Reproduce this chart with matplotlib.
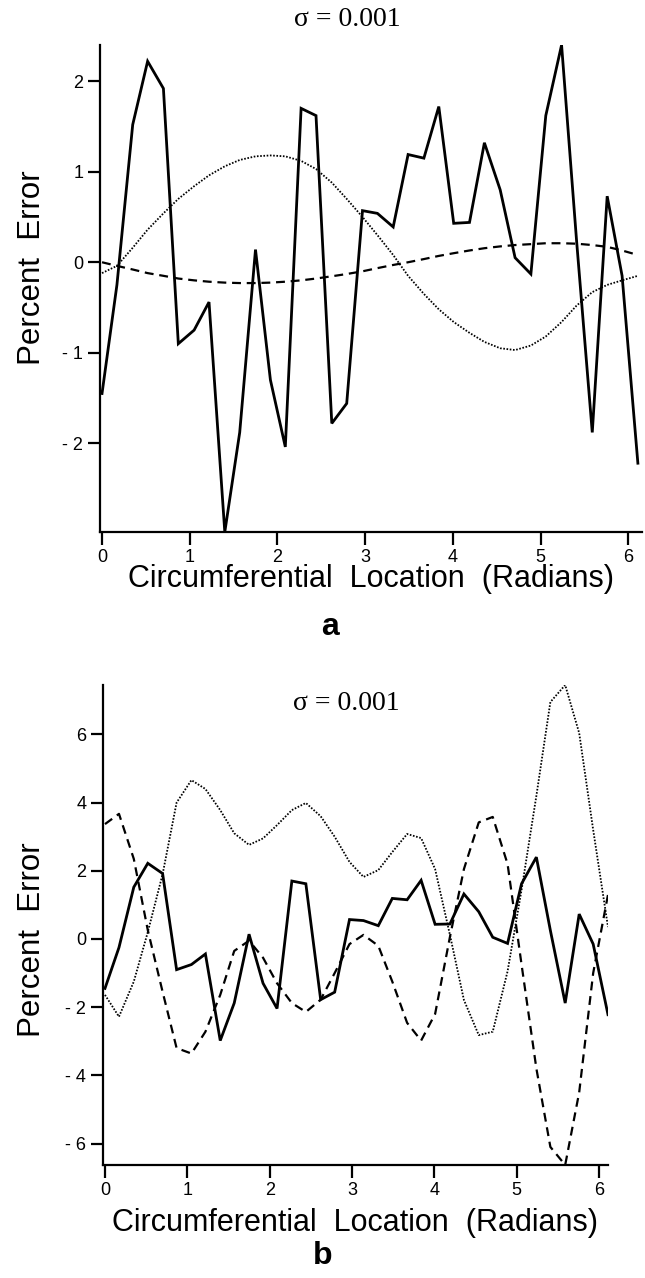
import matplotlib.pyplot as plt

plt.rcParams['font.family'] = ['Liberation Sans', 'DejaVu Sans']

# circumferential locations (radians), 36 points around the circle
location = [0.00, 0.17, 0.35, 0.52, 0.70, 0.87, 1.05, 1.22, 1.40, 1.57,
            1.75, 1.92, 2.09, 2.27, 2.44, 2.62, 2.79, 2.97, 3.14, 3.32,
            3.49, 3.67, 3.84, 4.01, 4.19, 4.36, 4.54, 4.71, 4.89, 5.06,
            5.24, 5.41, 5.59, 5.76, 5.93, 6.11]

# solid curve, same in both panels
solid_error = [-1.45, -0.25, 1.52, 2.22, 1.92, -0.90, -0.75, -0.44, -2.98, -1.88,
               0.14, -1.30, -2.04, 1.70, 1.62, -1.78, -1.56, 0.57, 0.54, 0.39,
               1.19, 1.15, 1.72, 0.43, 0.44, 1.32, 0.80, 0.05, -0.13, 1.62,
               2.40, 0.25, -1.88, 0.73, -0.15, -2.22]

# panel a
dotted_a = [-0.12, -0.04, 0.16, 0.36, 0.54, 0.70, 0.84, 0.96, 1.06, 1.13,
            1.17, 1.18, 1.17, 1.12, 1.03, 0.88, 0.70, 0.50, 0.30, 0.08,
            -0.15, -0.35, -0.52, -0.66, -0.78, -0.88, -0.95, -0.97, -0.92, -0.82,
            -0.66, -0.48, -0.33, -0.25, -0.20, -0.15]
dashed_a = [0.00, -0.04, -0.08, -0.12, -0.15, -0.18, -0.20, -0.215, -0.225, -0.23,
            -0.23, -0.225, -0.215, -0.20, -0.18, -0.155, -0.13, -0.10, -0.065, -0.03,
            0.00, 0.035, 0.07, 0.10, 0.13, 0.155, 0.175, 0.19, 0.20, 0.21,
            0.21, 0.205, 0.19, 0.17, 0.13, 0.08]

# panel b
dotted_b = [-1.64, -2.28, -1.25, 0.20, 1.90, 4.00, 4.66, 4.40, 3.78, 3.10,
            2.76, 2.95, 3.34, 3.78, 3.99, 3.60, 3.00, 2.26, 1.82, 2.02,
            2.55, 3.08, 2.96, 2.05, 0.12, -1.79, -2.82, -2.72, -0.95, 1.44,
            4.20, 6.95, 7.45, 6.04, 3.20, 0.35]
dashed_b = [3.37, 3.67, 2.35, 0.26, -1.55, -3.20, -3.36, -2.72, -1.64, -0.35,
            -0.05, -0.55, -1.30, -1.88, -2.14, -1.78, -1.00, -0.15, 0.12, -0.20,
            -1.25, -2.46, -2.98, -2.20, 0.06, 2.05, 3.42, 3.58, 2.20, -0.75,
            -3.80, -6.10, -6.63, -4.50, -1.00, 1.30]

ticks_a = [-2, -1, 0, 1, 2]
ticks_b = [-6, -4, -2, 0, 2, 4, 6]
x_ticks = [0, 1, 2, 3, 4, 5, 6]


def tick_text(v):
    # the original prints negatives as "- 2"
    return '- %d' % abs(v) if v < 0 else '%d' % v


def draw_panel(ax, dotted, dashed, yticks, xlim, ylim, label_y):
    ax.plot(location, solid_error, color='black', lw=2.0, solid_joinstyle='miter')
    ax.plot(location, dotted, color='black', lw=1.3, linestyle=(0, (0.9, 0.9)))
    ax.plot(location, dashed, color='black', lw=1.6, linestyle=(0, (4, 2.6)))

    ax.set_xlim(*xlim)
    ax.set_ylim(*ylim)
    ax.set_xticks(x_ticks)
    ax.set_yticks(yticks)
    ax.set_yticklabels([tick_text(v) for v in yticks])
    for side in ['top', 'right']:
        ax.spines[side].set_visible(False)
    for side in ['left', 'bottom']:
        ax.spines[side].set_linewidth(1.6)
    ax.tick_params(direction='out', length=9, width=1.6, labelsize=13, pad=3)
    ax.set_xlabel('Circumferential  Location  (Radians)', fontsize=22)
    ax.xaxis.set_label_coords(0.5, label_y)


fig = plt.figure(figsize=(6.45, 12.78), dpi=100)
W, H = 645.0, 1278.0

ax_a = fig.add_axes([100 / W, 1 - 532 / H, 542 / W, 487 / H])
draw_panel(ax_a, dotted_a, dashed_a, ticks_a, (-0.023, 6.157), (-2.98, 2.40), -0.066)

ax_b = fig.add_axes([103 / W, 1 - 1165 / H, 505 / W, 480 / H])
draw_panel(ax_b, dotted_b, dashed_b, ticks_b, (-0.024, 6.11), (-6.63, 7.45), -0.090)

fig.text(347 / W, 1 - 20 / H, '\u03c3 = 0.001', family='Liberation Serif',
         fontsize=20, ha='center', va='center')
fig.text(346 / W, 1 - 704 / H, '\u03c3 = 0.001', family='Liberation Serif',
         fontsize=20, ha='center', va='center')

fig.text(32 / W, 1 - 268 / H, 'Percent  Error', rotation=90, fontsize=22.5,
         ha='center', va='center')
fig.text(32 / W, 1 - 940 / H, 'Percent  Error', rotation=90, fontsize=22.5,
         ha='center', va='center')

fig.text(330 / W, 1 - 627 / H, 'a', fontsize=23, fontweight='bold',
         ha='center', va='center')
fig.text(323 / W, 1 - 1256 / H, 'b', fontsize=23, fontweight='bold',
         ha='center', va='center')

fig.savefig('out.png', dpi=100)
